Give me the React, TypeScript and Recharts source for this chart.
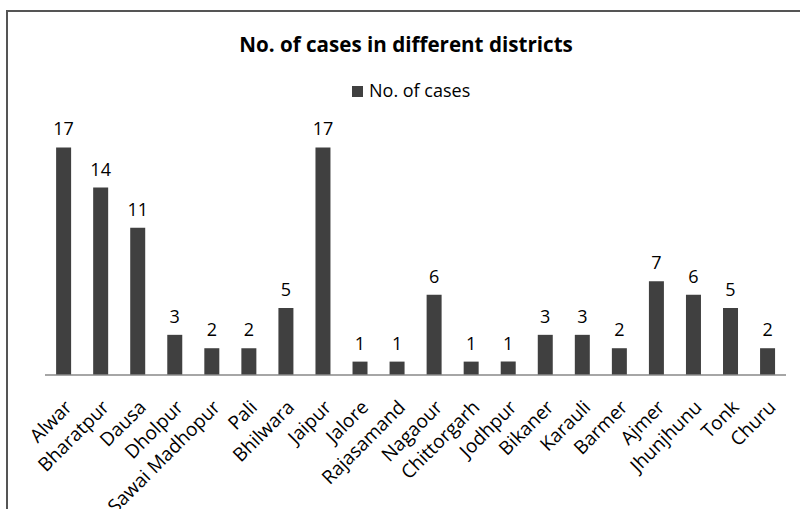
import React from "react";
import { BarChart, Bar, XAxis, YAxis, LabelList } from "recharts";

const districts = [
  "Alwar", "Bharatpur", "Dausa", "Dholpur", "Sawai Madhopur", "Pali", "Bhilwara",
  "Jaipur", "Jalore", "Rajasamand", "Nagaour", "Chittorgarh", "Jodhpur", "Bikaner",
  "Karauli", "Barmer", "Ajmer", "Jhunjhunu", "Tonk", "Churu",
];
const cases = [17, 14, 11, 3, 2, 2, 5, 17, 1, 1, 6, 1, 1, 3, 3, 2, 7, 6, 5, 2];

const data = districts.map((d, i) => ({ name: d, cases: cases[i] }));

const FONT = "'Open Sans', sans-serif";
const BAR = "#404040";

const RotTick = (props: any) => {
  const { x, y, payload } = props;
  return (
    <g transform={`translate(${x},${y + 16})`}>
      <text
        x={0}
        y={0}
        dy="0.71em"
        textAnchor="end"
        transform="rotate(-45)"
        fill="#000"
        fontSize={19}
        fontFamily={FONT}
      >
        {payload.value}
      </text>
    </g>
  );
};

export default function App() {
  return (
    <div
      style={{
        position: "absolute",
        left: 0,
        top: 0,
        width: 800,
        height: 509,
        overflow: "hidden",
        background: "#fff",
        fontFamily: FONT,
      }}
    >
      <div
        style={{
          position: "absolute",
          left: 6,
          top: 10,
          width: 900,
          height: 700,
          border: "2px solid #555",
        }}
      />
      <div
        style={{
          position: "absolute",
          left: 0,
          top: 30,
          width: 812,
          textAlign: "center",
          fontSize: 20.6,
          fontWeight: 700,
          color: "#000",
          fontFamily: FONT,
        }}
      >
        No. of cases in different districts
      </div>
      <div
        style={{
          position: "absolute",
          left: 352,
          top: 78,
          display: "flex",
          alignItems: "baseline",
          fontSize: 18,
          color: "#000",
          fontFamily: FONT,
          whiteSpace: "nowrap",
        }}
      >
        <span style={{ display: "inline-block", width: 11, height: 11, background: BAR, marginRight: 6 }} />
        <span>No. of cases</span>
      </div>
      <div style={{ position: "absolute", left: 0, top: 0 }}>
        <BarChart
          width={800}
          height={509}
          data={data}
          margin={{ top: 134, right: 14, left: 45, bottom: 34 }}
          barCategoryGap="30%"
        >
          <YAxis hide domain={[0, 18]} />
          <XAxis
            dataKey="name"
            interval={0}
            tickLine={false}
            axisLine={{ stroke: "#888", strokeWidth: 1.5 }}
            height={100}
            tick={<RotTick />}
          />
          <Bar dataKey="cases" name="No. of cases" fill={BAR} isAnimationActive={false}>
            <LabelList
              dataKey="cases"
              position="top"
              offset={12}
              fill="#000"
              fontSize={18}
              fontFamily={FONT}
            />
          </Bar>
        </BarChart>
      </div>
    </div>
  );
}
